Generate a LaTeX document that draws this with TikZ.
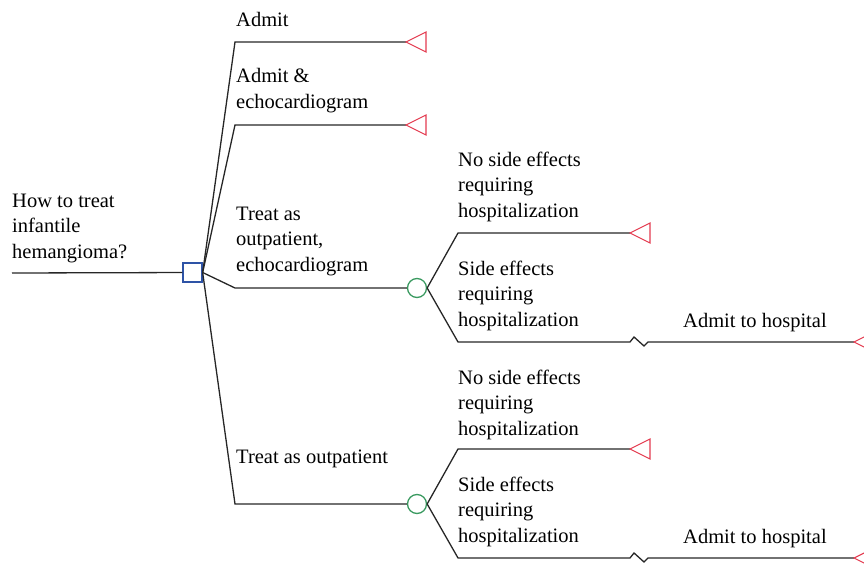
\documentclass[tikz,border=0pt]{standalone}
\usepackage{fontspec}
\setmainfont{Liberation Serif}
\usetikzlibrary{positioning}

\definecolor{decblue}{HTML}{2E53A6}
\definecolor{chgreen}{HTML}{3A9A60}
\definecolor{termred}{HTML}{E33B50}

\begin{document}
\begin{tikzpicture}[
  x=1pt, y=-1pt,
  branch/.style={draw=black!85, line width=1.3pt},
  decision/.style={draw=decblue, fill=white, line width=1.3pt, rectangle,
                   minimum size=19pt, inner sep=0},
  chance/.style={draw=chgreen, fill=white, line width=1.3pt, circle,
                 minimum size=19pt, inner sep=0},
  term/.style={draw=termred, line width=1.1pt, line join=miter},
  lbl/.style={anchor=base west, align=left, inner sep=0,
              font=\rmfamily\fontsize{20.5}{25.5}\selectfont}
]
\useasboundingbox (0,0) rectangle (864,564);
\clip (0,0) rectangle (864,564);

% decision and chance nodes
\node[decision] (dec) at (192.5,272.5) {};
\node[chance] (ch1) at (417,288) {};
\node[chance] (ch2) at (417,504) {};

% corners and end points
\coordinate (root) at (12,273);
\coordinate (a1) at (235,42);   \coordinate (t1) at (406,42);
\coordinate (a2) at (235,125);  \coordinate (t2) at (406,125);
\coordinate (a3) at (235,288);
\coordinate (a4) at (235,504);
\coordinate (b1) at (458,233);  \coordinate (t3) at (630,233);
\coordinate (b2) at (458,342);  \coordinate (z1) at (630,342);  \coordinate (t4) at (854,342);
\coordinate (b3) at (458,449);  \coordinate (t5) at (630,449);
\coordinate (b4) at (458,558);  \coordinate (z2) at (630,558);  \coordinate (t6) at (854,558);

% branches
\draw[branch] (root) -- (dec);
\draw[branch] (dec.east) -- (a1) -- (t1);
\draw[branch] (dec.east) -- (a2) -- (t2);
\draw[branch] (dec.east) -- (a3) -- (ch1);
\draw[branch] (dec.east) -- (a4) -- (ch2);
\draw[branch] (ch1.east) -- (b1) -- (t3);
\draw[branch] (ch1.east) -- (b2) -- (z1) -- ++(4,-5) -- ++(10,9) -- ++(4,-4) -- (t4);
\draw[branch] (ch2.east) -- (b3) -- (t5);
\draw[branch] (ch2.east) -- (b4) -- (z2) -- ++(4,-5) -- ++(10,9) -- ++(4,-4) -- (t6);

% terminal triangles
\foreach \t in {t1,t2,t3,t4,t5,t6}
  \draw[term] (\t) -- ++(20,-10) -- ++(0,20) -- cycle;

% labels (base = last line)
\node[lbl] (qlbl) at (12,258) {How to treat\\infantile\\hemangioma?};
\node[lbl] (l1) at (236,27) {Admit};
\node[lbl] (l2) at (236,108.5) {Admit \&\\echocardiogram};
\node[lbl] (l3) at (236,271) {Treat as\\outpatient,\\echocardiogram};
\node[lbl] (l4) at (236,463) {Treat as outpatient};
\node[lbl] (l5) at (458,217) {No side effects\\requiring\\hospitalization};
\node[lbl] (l6) at (458,326) {Side effects\\requiring\\hospitalization};
\node[lbl] (l7) at (683,327) {Admit to hospital};
\node[lbl] (l8) at (458,435) {No side effects\\requiring\\hospitalization};
\node[lbl] (l9) at (458,542) {Side effects\\requiring\\hospitalization};
\node[lbl] (l10) at (683,543) {Admit to hospital};
\end{tikzpicture}
\end{document}
